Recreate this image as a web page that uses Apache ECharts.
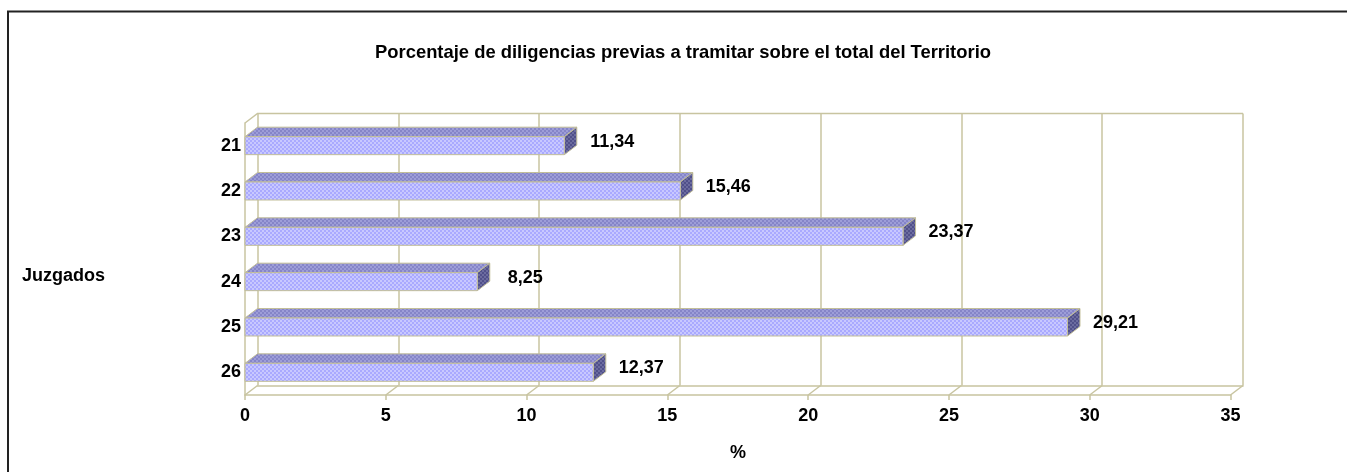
<!DOCTYPE html>
<html>
<head>
<meta charset="utf-8">
<title>Porcentaje de diligencias</title>
<style>
html, body { margin: 0; padding: 0; background: #fff; }
#chart { width: 1347px; height: 472px; }
</style>
<script src="https://cdn.jsdelivr.net/npm/echarts@6/dist/echarts.min.js"></script>
</head>
<body>
<div id="chart"></div>
<script>
const categories = ['21', '22', '23', '24', '25', '26'];
const values = [11.34, 15.46, 23.37, 8.25, 29.21, 12.37];
const xTicks = [0, 5, 10, 15, 20, 25, 30, 35];

const wallColor = '#c8c4a0';
const depthX = 12.5;
const depthY = -9.5;
const barHeight = 18;
const font = 'Liberation Sans, Arial, sans-serif';

// little tiled canvas for the dotted excel style fill
const makeTile = (base, dot) => {
    const c = document.createElement('canvas');
    c.width = 4;
    c.height = 4;
    const ctx = c.getContext('2d');
    ctx.fillStyle = base;
    ctx.fillRect(0, 0, 4, 4);
    ctx.fillStyle = dot;
    ctx.fillRect(0, 0, 2, 2);
    ctx.fillRect(2, 2, 2, 2);
    return c;
};
const frontFill = { image: makeTile('#a9a9ff', '#c8c8ff'), repeat: 'repeat' };
const topFill = { image: makeTile('#8585c8', '#9d9dd8'), repeat: 'repeat' };
const sideFill = { image: makeTile('#50508a', '#6c6ca0'), repeat: 'repeat' };

const fmt = (v) => String(v.toFixed(2)).replace('.', ',');

const renderBar = (params, api) => {
    const zero = api.coord([0, api.value(1)]);
    const end = api.coord([api.value(0), api.value(1)]);
    const top = end[1] - barHeight / 2;
    const bottom = end[1] + barHeight / 2;
    const line = { stroke: '#c2be98', lineWidth: 1 };
    return {
        type: 'group',
        children: [
            {
                type: 'polygon',
                shape: { points: [[zero[0], top], [zero[0] + depthX, top + depthY], [end[0] + depthX, top + depthY], [end[0], top]] },
                style: { fill: topFill, ...line },
            },
            {
                type: 'polygon',
                shape: { points: [[end[0], top], [end[0] + depthX, top + depthY], [end[0] + depthX, bottom + depthY], [end[0], bottom]] },
                style: { fill: sideFill, ...line },
            },
            {
                type: 'rect',
                shape: { x: zero[0], y: top, width: end[0] - zero[0], height: barHeight },
                style: { fill: frontFill, ...line },
            },
            {
                type: 'text',
                style: {
                    x: end[0] + 48,
                    y: end[1] - 4,
                    text: fmt(api.value(0)),
                    fill: '#000',
                    font: 'bold 18px ' + font,
                    align: 'center',
                    verticalAlign: 'middle',
                },
            },
        ],
    };
};

// floor slants, one per x tick
const renderFloor = (params, api) => {
    const x = api.coord([api.value(0), 0])[0];
    const y = params.coordSys.y + params.coordSys.height;
    return {
        type: 'line',
        shape: { x1: x, y1: y, x2: x + depthX, y2: y + depthY },
        style: { stroke: wallColor, lineWidth: 1.5 },
    };
};

// slant at the top of the left wall plus the back wall top edge
const renderWallEdge = (params, api) => {
    const x = api.coord([0, 0])[0];
    const y = params.coordSys.y;
    return {
        type: 'polyline',
        shape: { points: [[x, y], [x + depthX, y + depthY], [x + depthX + params.coordSys.width, y + depthY]] },
        style: { stroke: wallColor, lineWidth: 1.5, fill: null },
    };
};

const option = {
    animation: false,
    backgroundColor: '#fff',
    title: {
        text: 'Porcentaje de diligencias previas a tramitar sobre el total del Territorio',
        left: 678,
        top: 39,
        textAlign: 'center',
        textStyle: { fontFamily: font, fontWeight: 'bold', fontSize: 18.4, color: '#000' },
    },
    graphic: [
        {
            type: 'polyline',
            shape: { points: [[1347, 11.5], [8, 11.5], [8, 472]] },
            style: { stroke: '#222', lineWidth: 2, fill: null },
        },
        {
            type: 'text',
            left: 22,
            top: 267,
            style: { text: 'Juzgados', fill: '#000', font: 'bold 18px ' + font },
        },
        {
            type: 'text',
            left: 730,
            top: 444,
            style: { text: '%', fill: '#000', font: 'bold 18px ' + font },
        },
    ],
    grid: [
        { left: 245, right: 116.5, top: 123, bottom: 77 },
        { left: 257.5, right: 104, top: 113.5, bottom: 86.5 },
    ],
    xAxis: [
        {
            gridIndex: 0,
            type: 'value',
            min: 0,
            max: 35,
            interval: 5,
            axisLine: { show: true, lineStyle: { color: wallColor, width: 1.5 } },
            axisTick: { show: true, length: 5, lineStyle: { color: wallColor, width: 1.5 } },
            axisLabel: { color: '#000', fontFamily: font, fontWeight: 'bold', fontSize: 18, margin: 12 },
            splitLine: { show: false },
        },
        {
            gridIndex: 1,
            type: 'value',
            min: 0,
            max: 35,
            interval: 5,
            axisLine: { show: true, lineStyle: { color: wallColor, width: 1.5 } },
            axisTick: { show: false },
            axisLabel: { show: false },
            splitLine: { show: true, lineStyle: { color: wallColor, width: 1.5 } },
        },
    ],
    yAxis: [
        {
            gridIndex: 0,
            type: 'category',
            inverse: true,
            data: categories,
            axisLine: { show: true, onZero: false, lineStyle: { color: wallColor, width: 1.5 } },
            axisTick: { show: false },
            axisLabel: { color: '#000', fontFamily: font, fontWeight: 'bold', fontSize: 18, margin: 4 },
        },
        {
            gridIndex: 1,
            type: 'category',
            inverse: true,
            data: categories,
            axisLine: { show: false },
            axisTick: { show: false },
            axisLabel: { show: false },
            splitLine: { show: false },
        },
    ],
    series: [
        {
            type: 'custom',
            xAxisIndex: 0,
            yAxisIndex: 0,
            z: 3,
            renderItem: renderFloor,
            encode: { x: 0 },
            data: xTicks.map((t) => [t]),
        },
        {
            type: 'custom',
            xAxisIndex: 0,
            yAxisIndex: 0,
            z: 3,
            renderItem: renderWallEdge,
            encode: { x: 0 },
            data: [[0]],
        },
        {
            type: 'custom',
            xAxisIndex: 0,
            yAxisIndex: 0,
            z: 5,
            renderItem: renderBar,
            encode: { x: 0, y: 1 },
            data: values.map((v, i) => [v, i]),
        },
    ],
};

const chart = echarts.init(document.getElementById('chart'));
chart.setOption(option);
</script>
</body>
</html>
